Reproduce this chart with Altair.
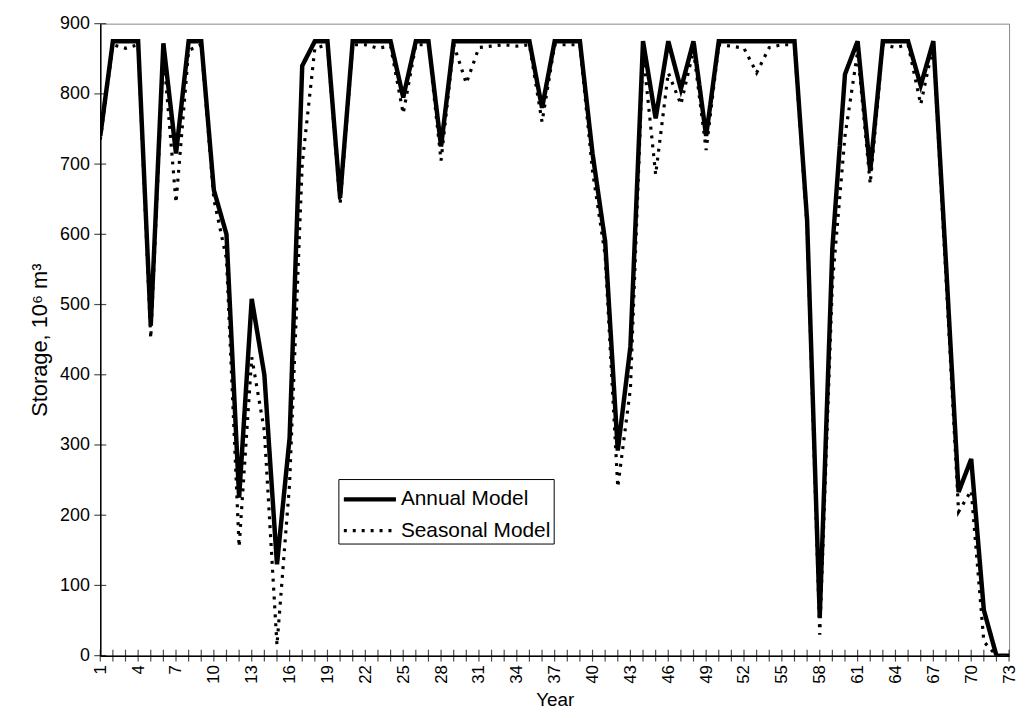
import altair as alt
import pandas as pd

years = list(range(1, 74))
label_years = years[::3]

annual = [740, 875, 875, 875, 470, 872, 715, 875, 875, 663,
          600, 225, 508, 400, 130, 310, 840, 875, 875, 652,
          875, 875, 875, 875, 795, 875, 875, 725, 875, 875,
          875, 875, 875, 875, 875, 780, 875, 875, 875, 715,
          590, 292, 440, 875, 765, 875, 807, 875, 740, 875,
          875, 875, 875, 875, 875, 875, 620, 55, 580, 828,
          875, 690, 875, 875, 875, 812, 875, 560, 233, 280,
          65, 0, 0]

seasonal = [735, 870, 865, 870, 452, 860, 645, 862, 870, 650,
            565, 155, 425, 320, 15, 245, 700, 865, 870, 643,
            870, 870, 865, 868, 772, 870, 870, 705, 870, 815,
            866, 868, 870, 868, 870, 760, 870, 870, 870, 690,
            570, 240, 380, 860, 685, 830, 785, 862, 720, 870,
            868, 865, 830, 866, 870, 870, 610, 30, 530, 740,
            860, 672, 870, 866, 870, 785, 870, 540, 205, 235,
            20, 0, 0]

series_names = ["Annual Model", "Seasonal Model"]
y_ticks = list(range(0, 901, 100))

FONT = "Liberation Sans"

rows = []
for yr, a, s in zip(years, annual, seasonal):
    rows.append({"Year": yr, "Storage": a, "Model": series_names[0]})
    rows.append({"Year": yr, "Storage": s, "Model": series_names[1]})
df = pd.DataFrame(rows)

xtick_df = pd.DataFrame({"Year": years, "Storage": [0] * len(years)})
ytick_df = pd.DataFrame({"Year": [1] * len(y_ticks), "Storage": y_ticks})

x_axis = alt.Axis(
    values=label_years,
    labelAngle=270,
    labelAlign="right",
    labelBaseline="middle",
    labelPadding=9,
    labelOverlap=False,
    labelFlush=False,
    labelFontSize=17,
    labelColor="black",
    ticks=False,
    tickSize=0,
    grid=False,
    domainColor="black",
    domainWidth=1.5,
    title="Year",
    titleFontSize=19,
    titleFontWeight="normal",
    titleColor="black",
    titleBaseline="alphabetic",
    titleY=50,
)

y_axis = alt.Axis(
    values=y_ticks,
    labelOverlap=False,
    labelFontSize=18,
    labelColor="black",
    labelPadding=11,
    ticks=False,
    tickSize=0,
    grid=False,
    domainColor="black",
    domainWidth=1.5,
    title="Storage, 10⁶ m³",
    titleFontSize=22,
    titleFontWeight="normal",
    titleColor="black",
    titleX=-49,
)

x_scale = alt.Scale(domain=[1, 73], nice=False, zero=False)
y_scale = alt.Scale(domain=[0, 900], nice=False)

leg = alt.Legend(
    orient="none",
    legendX=240,
    legendY=459,
    title=None,
    symbolType="M-1,0L2.5,0",
    symbolSize=900,
    labelFontSize=21,
    labelFont=FONT,
    labelColor="black",
    strokeColor="black",
    fillColor="white",
    padding=3,
    rowPadding=4,
    labelOffset=25,
)

lines = alt.Chart(df).mark_line(clip=True).encode(
    x=alt.X("Year:Q", scale=x_scale, axis=x_axis),
    y=alt.Y("Storage:Q", scale=y_scale, axis=y_axis),
    color=alt.Color("Model:N", scale=alt.Scale(domain=series_names, range=["black", "black"]), legend=leg),
    strokeDash=alt.StrokeDash("Model:N", scale=alt.Scale(domain=series_names, range=[[1, 0], [3, 6]]), legend=leg),
    strokeWidth=alt.StrokeWidth("Model:N", scale=alt.Scale(domain=series_names, range=[4.5, 3.2]), legend=leg),
)

xticks = alt.Chart(xtick_df).mark_tick(orient="vertical", size=12, thickness=1.2, color="black").encode(
    x=alt.X("Year:Q", scale=x_scale, axis=x_axis),
    y=alt.Y("Storage:Q", scale=y_scale, axis=y_axis),
)
yticks = alt.Chart(ytick_df).mark_tick(orient="horizontal", size=12, thickness=1.2, color="black").encode(
    x=alt.X("Year:Q", scale=x_scale, axis=x_axis),
    y=alt.Y("Storage:Q", scale=y_scale, axis=y_axis),
)

chart = alt.layer(lines, xticks, yticks).properties(
    width=916,
    height=637,
    padding={"left": 93, "top": 13, "right": 9, "bottom": 52},
    autosize=alt.AutoSizeParams(type="none"),
).configure_axis(
    labelFont=FONT,
    titleFont=FONT,
    labelOverlap=False,
).configure_view(
    stroke="#888888",
    strokeWidth=1,
)

chart.save("out.html", embed_options={"renderer": "svg", "actions": False})
